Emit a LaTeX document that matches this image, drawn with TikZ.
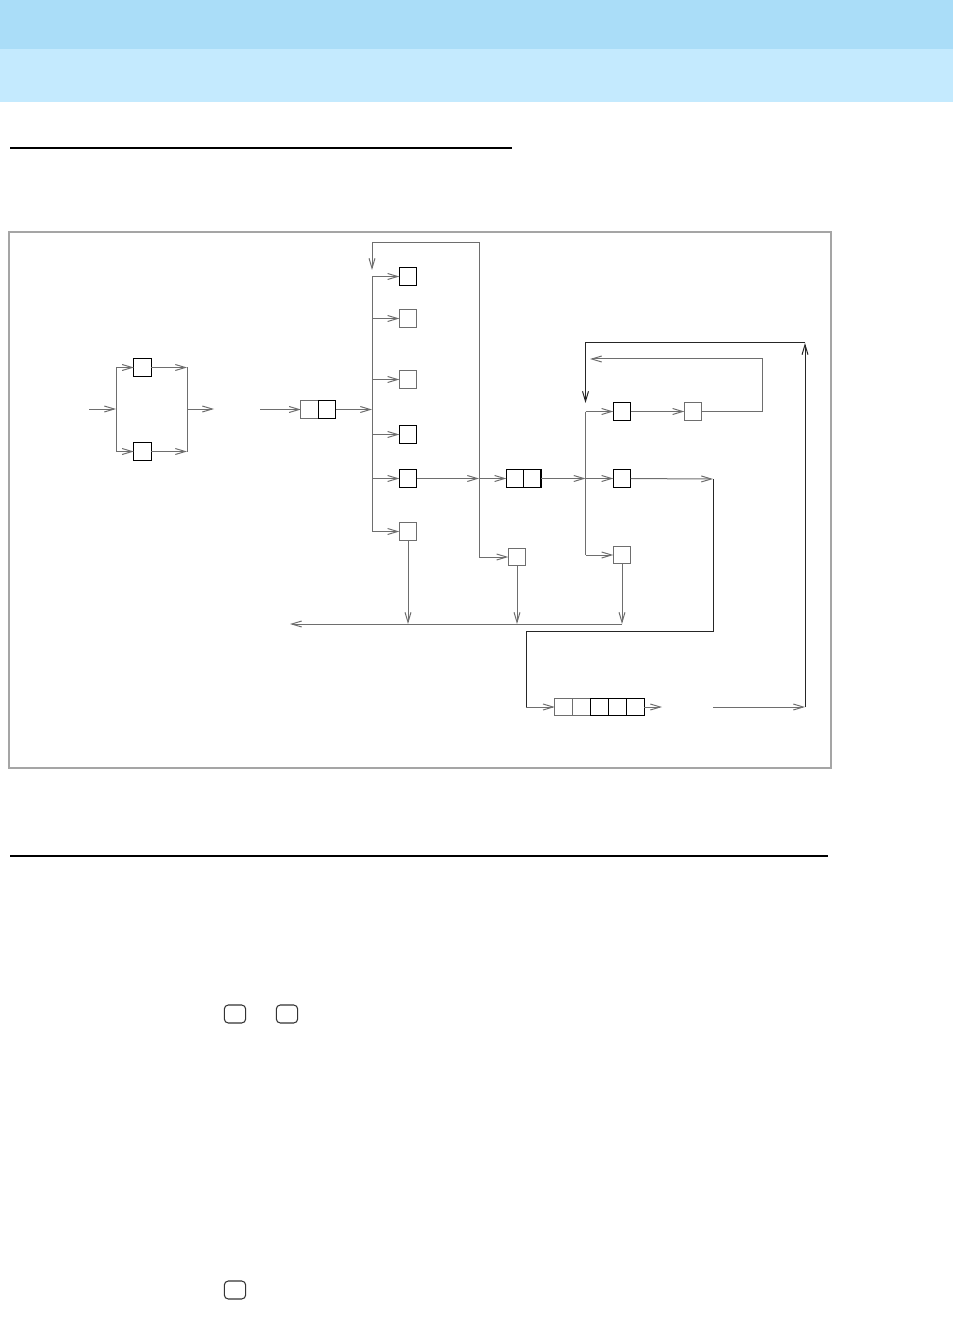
\documentclass[tikz,border=0pt]{standalone}
\usepackage{tikz}
\usetikzlibrary{arrows.meta, positioning}
\definecolor{hdtop}{RGB}{170,221,248}
\definecolor{hdbot}{RGB}{196,234,254}
\definecolor{wiregray}{RGB}{110,110,110}
\definecolor{framegray}{RGB}{165,165,165}

\begin{document}
\begin{tikzpicture}[x=0.75pt, y=-0.75pt, >={Straight Barb[length=7.5pt,width=4.5pt]},
    wire/.style={draw=wiregray, line width=0.75pt},
    blkbox/.style={draw=black, line width=0.8pt, minimum size=13pt, inner sep=0pt, outer sep=0pt},
    grybox/.style={draw=wiregray, line width=0.8pt, minimum size=13pt, inner sep=0pt, outer sep=0pt},
    keybox/.style={draw=black!80, line width=0.8pt, rounded corners=3pt, minimum width=16pt, minimum height=13.5pt, inner sep=0pt}]
    \useasboundingbox (0,0) rectangle (952,1326);
    % page header
    \fill[hdtop] (-1,-1) rectangle (953,49);
    \fill[hdbot] (-1,49) rectangle (953,102);
    \draw[line width=2.2pt] (10,148) -- (512,148);
    \draw[framegray, line width=0.9pt] (9,232) rectangle (831,768);
    \draw[line width=1pt] (10,856) -- (828,856);
    % key caps below
    \node[keybox] (keyA) at (235,1014) {};
    \node[keybox] (keyB) at (287,1014) {};
    \node[keybox] (keyC) at (235,1290) {};

    % parallel pair on the left
    \coordinate (inA) at (89,409);
    \coordinate (splitT) at (116,367.5);
    \coordinate (splitM) at (116,409);
    \coordinate (splitB) at (116,451.5);
    \node[blkbox] (pa) at (142.5,367.5) {};
    \node[blkbox] (pb) at (142.5,451.5) {};
    \coordinate (mrgT) at (187,367.5);
    \coordinate (mrgM) at (187,409);
    \coordinate (mrgB) at (187,451.5);
    \coordinate (outA) at (214,409);
    \draw[wire,->] (inA) -- (splitM);
    \draw[wire] (splitT) -- (splitB);
    \draw[wire,->] (splitT) -- (pa);
    \draw[wire,->] (splitB) -- (pb);
    \draw[wire,->] (pa) -- (mrgT);
    \draw[wire,->] (pb) -- (mrgB);
    \draw[wire] (mrgT) -- (mrgB);
    \draw[wire,->] (mrgM) -- (outA);

    % input queue and bus
    \coordinate (inB) at (260,409.5);
    \node[grybox] (qa) at (309.5,409.5) {};
    \node[blkbox, right=0pt of qa] (qb) {};
    \coordinate (busM) at (372,409.5);
    \coordinate (busTop) at (372,277);
    \coordinate (busBot) at (372,531.5);
    \draw[wire,->] (inB) -- (qa);
    \draw[wire,->] (qb) -- (busM);
    \draw[wire] (busTop) -- (busBot);
    \node[blkbox] (sa) at (408,276.5) {};
    \node[grybox] (sb) at (408,318.5) {};
    \node[grybox] (sc) at (408,379.5) {};
    \node[blkbox] (sd) at (408,434.5) {};
    \node[blkbox] (se) at (408,478.5) {};
    \node[grybox] (sf) at (408,531.5) {};
    \foreach \s in {sa,sb,sc,sd,se,sf}
        \draw[wire,->] (busTop |- \s) -- (\s);

    % second bus with loop back
    \coordinate (kTop) at (479,243);
    \coordinate (kMid) at (479,478.5);
    \coordinate (kBot) at (479,557);
    \coordinate (lpA) at (372,243);
    \coordinate (lpArr) at (372,270);
    \draw[wire,->] (kBot) -- (kTop) -- (lpA) -- (lpArr);
    \draw[wire,->] (se) -- (kMid);
    \node[blkbox] (ra) at (515,478.5) {};
    \node[blkbox, right=0pt of ra] (rb) {};
    \node[grybox] (ta) at (517,557) {};
    \draw[wire,->] (kMid) -- (ra);
    \draw[wire,->] (kBot) -- (ta);

    % third bus
    \coordinate (mTop) at (585.5,411.5);
    \coordinate (mMid) at (585.5,478.5);
    \coordinate (mBot) at (585.5,555);
    \draw[wire] (mTop) -- (mBot);
    \draw[wire,->] (rb) -- (mMid);
    \node[blkbox] (ua) at (622,411.5) {};
    \node[blkbox] (ub) at (622,478.5) {};
    \node[grybox] (uc) at (622,555) {};
    \node[grybox] (ud) at (693,411.5) {};
    \draw[wire,->] (mTop) -- (ua);
    \draw[wire,->] (mMid) -- (ub);
    \draw[wire,->] (mBot) -- (uc);
    \draw[wire,->] (ua) -- (ud);
    \coordinate (fbR) at (762,359);
    \coordinate (fbArr) at (590,359);
    \draw[wire,->] (ud) -| (fbR) -- (fbArr);

    % collecting line
    \coordinate (colR) at (621.5,624);
    \coordinate (colL) at (290,624);
    \draw[wire,->] (sf) -- (sf |- colR);
    \draw[wire,->] (ta) -- (ta |- colR);
    \draw[wire,->] (uc) -- (uc |- colR);
    \draw[wire,->] (colR) -- (colL);

    % route to output queue
    \coordinate (vR) at (713,479);
    \coordinate (vRb) at (713,631);
    \coordinate (vL) at (526,631);
    \coordinate (vLb) at (526,707);
    \draw[wire,->] (ub) -- (vR);
    \draw[black!85, line width=0.75pt] (vR) -- (vRb) -- (vL) -- (vLb);
    \node[grybox, minimum width=13.4pt] (wa) at (563.7,707) {};
    \node[grybox, minimum width=13.4pt, right=0pt of wa] (wb) {};
    \node[blkbox, minimum width=13.4pt, right=0pt of wb] (wc) {};
    \node[blkbox, minimum width=13.4pt, right=0pt of wc] (wd) {};
    \node[blkbox, minimum width=13.4pt, right=0pt of wd] (we) {};
    \coordinate (wOut) at (662,707);
    \draw[wire,->] (vLb) -- (wa);
    \draw[wire,->] (we) -- (wOut);

    % outer return loop
    \coordinate (oBL) at (713,707);
    \coordinate (oBR) at (805,707);
    \coordinate (oTR) at (805,343);
    \coordinate (oTL) at (585.5,343);
    \coordinate (oArr) at (585.5,403);
    \draw[wire,->] (oBL) -- (oBR);
    \draw[black!85, line width=0.75pt,->] (oBR) -- (oTR);
    \draw[black!85, line width=0.75pt,->] (oTR) -- (oTL) -- (oArr);
\end{tikzpicture}
\end{document}
